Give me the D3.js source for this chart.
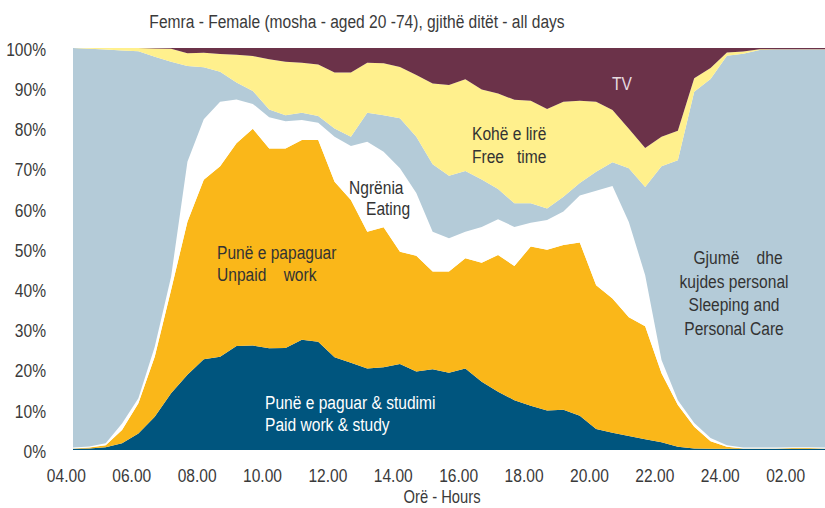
<!DOCTYPE html>
<html>
<head>
<meta charset="utf-8" />
<script src="https://d3js.org/d3.v7.min.js"></script>
<style>
    body {
        margin: 0;
        background: #fff;
    }
    svg text {
        font-family: "Liberation Sans", Arial, sans-serif;
        font-size: 19px;
        fill: #3a3a3a;
    }
    svg text.axis-title {
        font-size: 18px;
    }
</style>
</head>
<body>
<div id="chart"></div>
<script>
    // half-hour time slots, 04:00 to 03:00 next day
    var slots = ["04:00", "04:30", "05:00", "05:30", "06:00", "06:30", "07:00", "07:30",
        "08:00", "08:30", "09:00", "09:30", "10:00", "10:30", "11:00", "11:30",
        "12:00", "12:30", "13:00", "13:30", "14:00", "14:30", "15:00", "15:30",
        "16:00", "16:30", "17:00", "17:30", "18:00", "18:30", "19:00", "19:30",
        "20:00", "20:30", "21:00", "21:30", "22:00", "22:30", "23:00", "23:30",
        "00:00", "00:30", "01:00", "01:30", "02:00", "02:30", "03:00"];

    // share of women (%) in each activity, per slot
    var paidWork = [0.3, 0.4, 0.7, 1.7, 4.1, 8.3, 14.1, 18.7, 22.6, 23.2, 25.9, 26.0,
        25.3, 25.4, 27.4, 26.9, 23.1, 21.7, 20.3, 20.6, 21.4, 19.5, 20.1, 19.2,
        20.3, 17.0, 14.5, 12.4, 11.0, 9.8, 10.0, 8.5, 5.2, 4.3, 3.5, 2.7,
        1.9, 0.8, 0.4, 0.3, 0.3, 0.3, 0.3, 0.3, 0.3, 0.3, 0.3];
    var unpaidWork = [0.1, 0.2, 0.5, 3.3, 7.5, 14.9, 25.7, 38.1, 44.6, 47.4, 50.4, 53.9,
        49.7, 49.6, 49.7, 50.2, 43.6, 40.5, 34.0, 34.8, 27.9, 28.8, 24.3, 25.2,
        27.4, 29.6, 34.0, 33.4, 39.6, 40.0, 41.0, 43.1, 35.8, 33.4, 29.5, 28.1,
        17.2, 10.4, 5.4, 1.9, 0.5, 0.1, 0.1, 0.1, 0.2, 0.2, 0.1];
    var eating = [0.2, 0.3, 0.5, 1.6, 1.3, 2.5, 3.3, 14.9, 15.1, 16.0, 10.9, 6.2,
        7.8, 6.8, 5.0, 4.3, 11.2, 13.4, 22.4, 18.8, 20.8, 15.6, 9.9, 8.3,
        6.6, 8.9, 8.9, 9.7, 5.9, 7.4, 8.3, 11.7, 23.5, 28.0, 23.7, 12.7,
        3.3, 1.2, 0.9, 0.8, 0.4, 0.2, 0.2, 0.2, 0.2, 0.2, 0.2];
    var sleepCare = [99.4, 98.9, 97.9, 92.8, 86.3, 72.1, 53.5, 23.8, 12.9, 7.5, 4.2, 3.2,
        1.9, 1.5, 1.8, 1.7, 2.1, 2.3, 7.2, 9.1, 12.4, 14.0, 16.8, 15.5,
        15.1, 11.8, 7.5, 5.9, 4.9, 2.9, 3.7, 3.1, 4.7, 5.9, 13.4, 21.9,
        48.2, 59.7, 82.4, 89.3, 96.9, 98.0, 98.9, 99.0, 98.9, 98.9, 99.0];
    var freeTime = [0.0, 0.2, 0.4, 0.6, 0.8, 2.1, 3.2, 3.2, 3.6, 4.4, 6.9, 8.7,
        12.5, 13.3, 12.4, 12.8, 13.9, 16.0, 12.4, 12.9, 12.8, 15.4, 20.1, 22.6,
        22.8, 22.4, 23.8, 25.7, 25.5, 24.7, 23.6, 20.5, 17.4, 13.0, 9.8, 9.7,
        7.3, 7.3, 3.4, 2.7, 0.8, 0.5, 0.2, 0.1, 0.1, 0.1, 0.1];
    var tv = [0.0, 0.0, 0.0, 0.0, 0.0, 0.1, 0.2, 1.3, 1.2, 1.5, 1.7, 2.0,
        2.8, 3.4, 3.7, 4.1, 6.1, 6.1, 3.7, 3.8, 4.7, 6.7, 8.8, 9.2,
        7.8, 10.3, 11.3, 12.9, 13.1, 15.2, 13.4, 13.1, 13.4, 15.4, 20.1, 24.9,
        22.1, 20.6, 7.5, 5.0, 1.1, 0.9, 0.3, 0.3, 0.3, 0.3, 0.3];

    var xTicks = [4, 6, 8, 10, 12, 14, 16, 18, 20, 22, 24, 26];
    var xTickLabels = ["04.00", "06.00", "08.00", "10.00", "12.00", "14.00",
        "16.00", "18.00", "20.00", "22.00", "24.00", "02.00"];
    var yTicks = [0, 10, 20, 30, 40, 50, 60, 70, 80, 90, 100];

    var seriesKeys = ["paid", "unpaid", "eating", "sleep", "free", "tv"];
    var seriesColors = ["#00557e", "#fab719", "#ffffff", "#b4cbd8", "#fff08d", "#6b3249"];

    var width = 825, height = 508;
    var margin = {left: 73, right: 0, top: 48, bottom: 58};
    var narrow = 0.82; // horizontal squeeze, to get an "Arial Narrow" look

    // each slot is plotted at its middle (start + 15 min)
    function slotHour(s) {
        var p = s.split(":");
        var h = +p[0] + (+p[1]) / 60;
        if (h < 4) h += 24;
        return h + 0.25;
    }

    var rows = slots.map(function(s, i) {
        return {
            hour: slotHour(s),
            paid: paidWork[i],
            unpaid: unpaidWork[i],
            eating: eating[i],
            sleep: sleepCare[i],
            free: freeTime[i],
            tv: tv[i]
        };
    });

    var x = d3.scaleLinear()
        .domain(d3.extent(rows, function(d) { return d.hour; }))
        .range([margin.left, width - margin.right]);

    var y = d3.scaleLinear()
        .domain([0, 100])
        .range([height - margin.bottom, margin.top]);

    var color = d3.scaleOrdinal().domain(seriesKeys).range(seriesColors);

    var stack = d3.stack()
        .keys(seriesKeys)
        .offset(d3.stackOffsetExpand);

    var area = d3.area()
        .x(function(d) { return x(d.data.hour); })
        .y0(function(d) { return y(d[0] * 100); })
        .y1(function(d) { return y(d[1] * 100); });

    var svg = d3.select('#chart')
        .append('svg')
        .attr('width', width)
        .attr('height', height);

    svg.selectAll('path.layer')
        .data(stack(rows))
        .enter()
        .append('path')
        .attr('class', 'layer')
        .attr('d', area)
        .attr('fill', function(d) { return color(d.key); });

    function label(px, py, str, anchor, fill) {
        return svg.append('text')
            .attr('transform', 'translate(' + px + ',' + py + ') scale(' + narrow + ',1)')
            .attr('dy', '0.36em')
            .attr('text-anchor', anchor || 'start')
            .style('fill', fill || null)
            .style('white-space', 'pre')
            .text(str);
    }

    // axis labels
    yTicks.forEach(function(d) {
        label(46, y(d) + 1, d + '%', 'end');
    });
    xTicks.forEach(function(d, i) {
        label(x(d) + 1.5, 475.5, xTickLabels[i], 'middle');
    });
    label(442, 497, 'Orë - Hours', 'middle').attr('class', 'axis-title');
    label(357, 21, 'Femra - Female (mosha - aged 20 -74), gjithë ditët - all days', 'middle');

    // labels inside the areas
    label(265, 402, 'Punë e paguar & studimi', 'start', '#fff');
    label(265, 424, 'Paid work & study', 'start', '#fff');
    label(217, 252, 'Punë e papaguar', 'start', '#333');
    label(217, 274, 'Unpaid    work', 'start', '#333');
    label(349, 187, 'Ngrënia', 'start', '#333');
    label(366, 208, 'Eating', 'start', '#333');
    label(472, 133, 'Kohë e lirë', 'start', '#333');
    label(472, 156, 'Free   time', 'start', '#333');
    label(622, 83, 'TV', 'middle', '#e6dbe0');
    label(738, 257, 'Gjumë    dhe', 'middle', '#333');
    label(734, 281, 'kujdes personal', 'middle', '#333');
    label(734, 304, 'Sleeping and', 'middle', '#333');
    label(734, 328, 'Personal Care', 'middle', '#333');
</script>
</body>
</html>
